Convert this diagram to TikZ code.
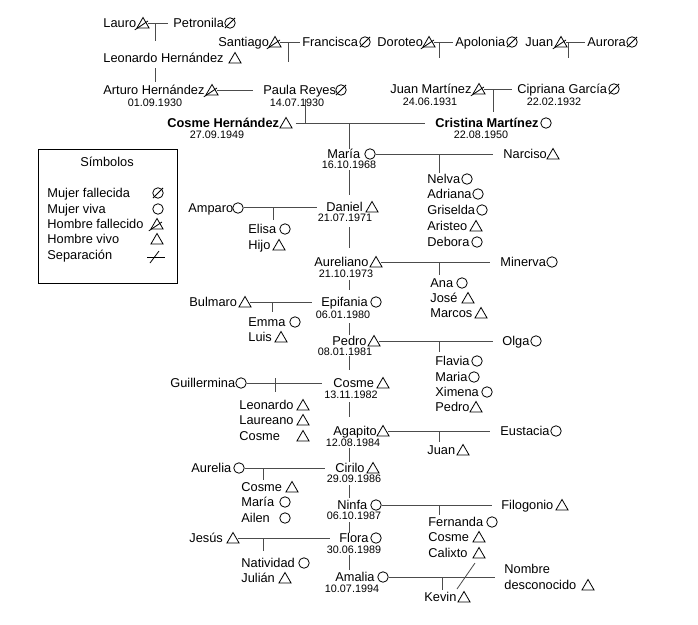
\documentclass[tikz,border=0pt]{standalone}
\usepackage{fontspec}
\setmainfont{Liberation Sans}
\usetikzlibrary{shapes.geometric}
\newcommand{\nmfont}{\fontsize{12.8}{14}\selectfont}
\newcommand{\dtfont}{\fontsize{10.8}{12}\selectfont}
\newcommand{\psn}[6]{\node[nm] (#1) at (#2,#3) {#4}; \node[#6] (#1S) at (#5,#3) {};}
\newcommand{\dte}[4]{\node[dt] (#1) at (#2,#3) {#4};}
\newcommand{\cpline}[3]{\draw[cpl, shorten >=#3pt] (#1S.east |- #2.west) -- (#2.west);}
\newcommand{\drp}[5]{\coordinate (#1) at (#2,#3); \draw[cpl, shorten >=#5pt] (#1) -- (#1 |- #4.north);}
\newcommand{\trk}[4]{\draw[cpl, shorten <=#3pt, shorten >=#4pt] (cm |- #1.south) -- (cm |- #2.north);}
\begin{document}
\begin{tikzpicture}[x=1pt,y=-1pt,line width=0.8pt,
  nm/.style={font=\nmfont, inner sep=0pt, text height=9.2pt, text depth=0pt, anchor=west},
  dt/.style={font=\dtfont, inner sep=0pt, text height=7.7pt, text depth=0pt},
  fa/.style={circle, draw, minimum size=10.5pt, inner sep=0pt},
  fd/.style={fa, append after command={(\tikzlastnode.south west) edge[shorten <=-1.5pt, shorten >=-1.5pt] (\tikzlastnode.north east)}},
  ma/.style={regular polygon, regular polygon sides=3, draw, minimum size=14pt, inner sep=0pt, yshift=-1.5pt},
  md/.style={ma, append after command={([shift={(-1.5pt,-1.5pt)}]\tikzlastnode.corner 2) edge ([shift={(5pt,3.5pt)}]\tikzlastnode.center)}},
  cpl/.style={draw=black!70}]
\fill[white] (0,0) rectangle (698,624);
\useasboundingbox (0,0) rectangle (698,624);

% ================= persons
\psn{lauro}{103}{23}{Lauro}{143}{md}
\psn{petronila}{173}{23}{Petronila}{230}{fd}
\psn{santiago}{218}{42}{Santiago}{275}{md}
\psn{francisca}{302}{42}{Francisca}{365}{fd}
\psn{doroteo}{377}{42}{Doroteo}{429}{md}
\psn{apolonia}{455}{42}{Apolonia}{512}{fd}
\psn{juan}{525}{42}{Juan}{561}{md}
\psn{aurora}{587}{42}{Aurora}{632}{fd}
\psn{leonardoh}{103}{58}{Leonardo Hernández}{235}{ma}

\psn{arturo}{103}{90}{Arturo Hernández}{212}{md}
\psn{paula}{263}{90}{Paula Reyes}{341}{fd}
\psn{juanm}{390}{89}{Juan Martínez}{479}{md}
\psn{cipriana}{517}{89}{Cipriana García}{614}{fd}
\dte{darturo}{155}{103}{01.09.1930}
\dte{dpaula}{297}{103}{14.07.1930}
\dte{djuanm}{430}{102}{24.06.1931}
\dte{dcipriana}{554}{102}{22.02.1932}

\psn{cosmeh}{167}{123}{\textbf{Cosme Hernández}}{286}{ma}
\psn{cristina}{435}{123}{\textbf{Cristina Martínez}}{546}{fa}
\dte{dcosmeh}{217}{135}{27.09.1949}
\dte{dcristina}{481}{135}{22.08.1950}

\psn{maria}{327}{154}{María}{370}{fa}
\dte{dmaria}{349}{165}{16.10.1968}
\psn{narciso}{503}{154}{Narciso}{553}{ma}
\psn{nelva}{427}{179}{Nelva}{467}{fa}
\psn{adriana}{427}{194}{Adriana}{478}{fa}
\psn{griselda}{427}{210}{Griselda}{482}{fa}
\psn{aristeo}{427}{226}{Aristeo}{476}{ma}
\psn{debora}{427}{242}{Debora}{477}{fa}

\psn{daniel}{326}{207}{Daniel}{372}{ma}
\dte{ddaniel}{345}{218}{21.07.1971}
\psn{amparo}{188}{208}{Amparo}{238}{fa}
\psn{elisa}{248}{229}{Elisa}{285}{fa}
\psn{hijo}{248}{245}{Hijo}{279}{ma}

\psn{aureliano}{314}{262}{Aureliano}{376}{ma}
\dte{daureliano}{346}{274}{21.10.1973}
\psn{minerva}{500}{262}{Minerva}{552}{fa}
\psn{ana}{430}{283}{Ana}{462}{fa}
\psn{jose}{430}{298}{José}{468}{ma}
\psn{marcos}{430}{313}{Marcos}{481}{ma}

\psn{epifania}{321}{302}{Epifania}{376}{fa}
\dte{depifania}{343}{315}{06.01.1980}
\psn{bulmaro}{189}{302}{Bulmaro}{245}{ma}
\psn{emma}{248}{322}{Emma}{295}{fa}
\psn{luis}{248}{337}{Luis}{281}{ma}

\psn{pedro}{332}{341}{Pedro}{374}{ma}
\dte{dpedro}{345}{352}{08.01.1981}
\psn{olga}{502}{341}{Olga}{536}{fa}
\psn{flavia}{435}{361}{Flavia}{477}{fa}
\psn{maria2}{435}{377}{Maria}{474}{fa}
\psn{ximena}{435}{392}{Ximena}{487}{fa}
\psn{pedro2}{435}{407}{Pedro}{476}{ma}

\psn{cosme2}{333}{383}{Cosme}{383}{ma}
\dte{dcosme2}{351}{395}{13.11.1982}
\psn{guillermina}{170}{383}{Guillermina}{241}{fa}
\psn{leonardo}{239}{405}{Leonardo}{303}{ma}
\psn{laureano}{239}{420}{Laureano}{303}{ma}
\psn{cosme3}{239}{436}{Cosme}{303}{ma}

\psn{agapito}{333}{431}{Agapito}{383}{ma}
\dte{dagapito}{353}{443}{12.08.1984}
\psn{eustacia}{500}{431}{Eustacia}{556}{fa}
\psn{juan2}{427}{450}{Juan}{463}{ma}

\psn{cirilo}{335}{468}{Cirilo}{373}{ma}
\dte{dcirilo}{354}{479}{29.09.1986}
\psn{aurelia}{191}{468}{Aurelia}{239}{fa}
\psn{cosme4}{241}{487}{Cosme}{292}{ma}
\psn{maria3}{241}{502}{María}{285}{fa}
\psn{ailen}{241}{518}{Ailen}{285}{fa}

\psn{ninfa}{337}{505}{Ninfa}{376}{fa}
\dte{dninfa}{354}{516}{06.10.1987}
\psn{filogonio}{501}{505}{Filogonio}{562}{ma}
\psn{fernanda}{428}{522}{Fernanda}{492}{fa}
\psn{cosme5}{428}{537}{Cosme}{479}{ma}
\psn{calixto}{428}{553}{Calixto}{479}{ma}

\psn{flora}{339}{538}{Flora}{376}{fa}
\dte{dflora}{354}{550}{30.06.1989}
\psn{jesus}{189}{538}{Jesús}{233}{ma}
\psn{natividad}{241}{563}{Natividad}{304}{fa}
\psn{julian}{241}{578}{Julián}{285}{ma}

\psn{amalia}{335}{577}{Amalia}{383}{fa}
\dte{damalia}{352}{589}{10.07.1994}
\node[nm] (nombre) at (504,569) {Nombre};
\psn{desconocido}{504}{585}{desconocido}{588}{ma}
\psn{kevin}{424}{597}{Kevin}{464}{ma}

% ================= connectors
\cpline{lauro}{petronila}{5}
\cpline{santiago}{francisca}{2}
\cpline{doroteo}{apolonia}{2}
\cpline{juan}{aurora}{2}
\drp{j1}{155}{23}{leonardoh}{12}
\draw[cpl, shorten <=5pt, shorten >=3pt] (j1 |- leonardoh.south) -- (j1 |- arturo.north);
\coordinate (j2) at (288,42); \coordinate (j2e) at (288,62); \draw[cpl] (j2) -- (j2e);
\coordinate (j3) at (439,42); \coordinate (j3e) at (439,58); \draw[cpl] (j3) -- (j3e);
\coordinate (j4) at (568,42); \coordinate (j4e) at (568,58); \draw[cpl] (j4) -- (j4e);

\cpline{arturo}{paula}{10}
\cpline{juanm}{cipriana}{5}
\draw[cpl, shorten <=5pt, shorten >=10pt] (cosmehS.east |- cristina.west) -- (cristina.west);
\coordinate (j5) at (305,123);
\draw[cpl, shorten <=4pt] (j5 |- paula.south) -- (j5);
\drp{j6}{493}{89}{cristina}{6}
\coordinate (cm) at (349,123);
\draw[cpl] (cm) -- (cm |- maria.north);

\cpline{maria}{narciso}{10}
\drp{jm}{439}{154}{nelva}{1}
\cpline{amparo}{daniel}{9}
\drp{jd}{273}{208}{elisa}{4}
\cpline{aureliano}{minerva}{10}
\drp{ja}{439}{262}{ana}{3}
\cpline{bulmaro}{epifania}{9}
\drp{jb}{272}{302}{emma}{5}
\cpline{pedro}{olga}{9}
\drp{jp}{439}{341}{flavia}{4}
\cpline{guillermina}{cosme2}{11}
\coordinate (jg) at (275,383);
\draw[cpl, shorten >=8pt] ([yshift=5pt]jg) -- (jg |- leonardo.north);
\cpline{agapito}{eustacia}{10}
\drp{jag}{439}{431}{juan2}{3}
\cpline{aurelia}{cirilo}{10}
\drp{jc}{263}{468}{cosme4}{2}
\cpline{ninfa}{filogonio}{9}
\drp{jn}{439}{505}{fernanda}{2}
\cpline{jesus}{flora}{9}
\drp{jj}{263}{538}{natividad}{7}
\draw[cpl, shorten >=9pt] (amaliaS.east) -- (amaliaS.east -| nombre.west);
\drp{jam}{442}{577}{kevin}{2}
\coordinate (sepa) at (475,563); \coordinate (sepb) at (457,589);
\draw[cpl] (sepa) -- (sepb);

% trunk
\trk{dmaria}{daniel}{1}{7}
\trk{ddaniel}{aureliano}{5}{9}
\trk{daureliano}{epifania}{2}{7}
\trk{depifania}{pedro}{4}{1}
\trk{dpedro}{cosme2}{0}{8}
\trk{dcosme2}{agapito}{3}{9}
\trk{dagapito}{cirilo}{1}{1}
\trk{dcirilo}{ninfa}{2}{2}
\trk{dninfa}{flora}{2}{0}
\trk{dflora}{amalia}{1}{2}

% ================= legend
\draw[line width=1pt] (38,149) rectangle (177,283);
\node[font=\nmfont, inner sep=0pt] (ltitle) at (107,162) {Símbolos};
\node[nm] (l1) at (47,193) {Mujer fallecida}; \node[fd] (l1S) at (158,193) {};
\node[nm] (l2) at (47,209) {Mujer viva}; \node[fa] (l2S) at (158,209) {};
\node[nm] (l3) at (47,224) {Hombre fallecido}; \node[md] (l3S) at (157,224) {};
\node[nm] (l4) at (47,239) {Hombre vivo}; \node[ma] (l4S) at (157,239) {};
\node[nm] (l5) at (47,255) {Separación};
\coordinate (s1) at (147,257); \coordinate (s2) at (165,257);
\coordinate (s3) at (150,263); \coordinate (s4) at (159,251);
\draw (s1) -- (s2); \draw (s3) -- (s4);
\end{tikzpicture}
\end{document}
